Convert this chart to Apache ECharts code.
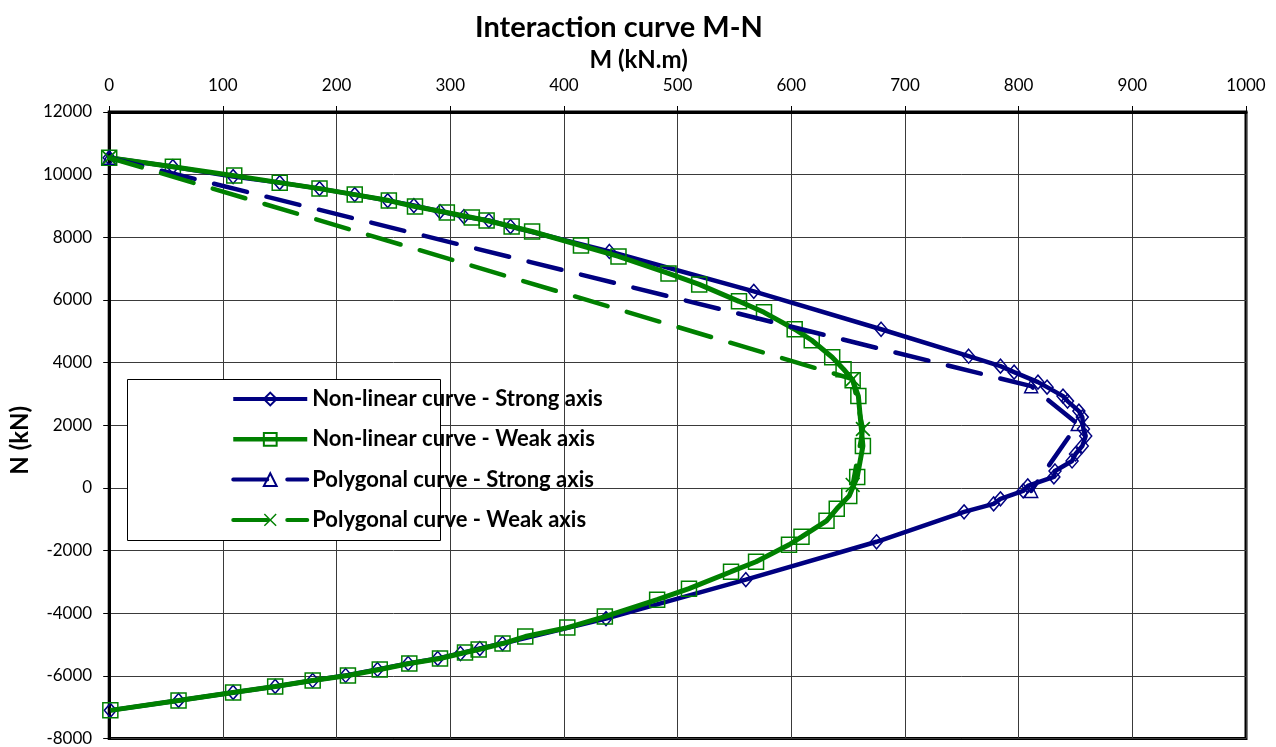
<!DOCTYPE html>
<html>
<head>
<meta charset="utf-8">
<title>Interaction curve M-N</title>
<script src="https://cdn.jsdelivr.net/npm/echarts@6/dist/echarts.min.js"></script>
<style>
  html, body { margin: 0; padding: 0; background: #fff; }
  #chart { width: 1276px; height: 747px; }
</style>
</head>
<body>
<div id="chart"></div>
<script>
// Bending moment M (kN.m) and axial force N (kN) for each curve
const strongM = [0, 56, 109, 150, 185, 216, 245, 268, 291, 312, 334, 353, 440, 567, 679, 756, 784, 796, 817, 825, 839, 843, 853, 856, 857, 859, 856, 850, 847, 832, 831, 808, 804, 784, 778, 752, 675, 560, 437, 346, 326, 309, 289, 263, 236, 208, 179, 146, 109, 61, 1];
const strongN = [10540, 10255, 9937, 9745, 9554, 9363, 9172, 9013, 8822, 8663, 8535, 8344, 7548, 6274, 5064, 4204, 3886, 3695, 3376, 3217, 2930, 2771, 2452, 2261, 1879, 1656, 1338, 1083, 860, 541, 350, 64, -96, -350, -510, -764, -1720, -2930, -4172, -4968, -5128, -5287, -5446, -5605, -5796, -5988, -6147, -6338, -6529, -6784, -7102];

const weakM = [0, 56, 110, 150, 185, 216, 246, 269, 297, 319, 332, 354, 372, 415, 448, 492, 519, 554, 576, 603, 618, 636, 646, 654, 659, 663, 658, 651, 640, 631, 609, 598, 569, 547, 510, 482, 436, 403, 366, 346, 325, 313, 291, 264, 238, 210, 179, 146, 109, 61, 1];
const weakN = [10540, 10255, 9969, 9745, 9554, 9363, 9172, 8981, 8790, 8631, 8535, 8344, 8185, 7739, 7389, 6847, 6497, 5956, 5605, 5064, 4713, 4172, 3790, 3440, 2930, 1338, 350, -255, -669, -1051, -1561, -1815, -2357, -2675, -3217, -3567, -4109, -4459, -4746, -4968, -5160, -5255, -5446, -5605, -5796, -5988, -6147, -6338, -6529, -6784, -7102];

const polyStrongM = [0, 811, 852, 811];
const polyStrongN = [10540, 3249, 2038, -96];

const polyWeakM = [0, 654, 663, 654];
const polyWeakN = [10540, 3472, 1879, 96];

const seriesNames = [
  'Non-linear curve - Strong axis',
  'Non-linear curve - Weak axis',
  'Polygonal curve - Strong axis',
  'Polygonal curve - Weak axis'
];

const mTicks = { min: 0, max: 1000, interval: 100 };
const nTicks = { min: -8000, max: 12000, interval: 2000 };

const NAVY = '#000080';
const GREEN = '#008000';
const FONT = 'Lato, "Open Sans", sans-serif';

function pairs(ms, ns) {
  return ms.map((m, i) => [m, ns[i]]);
}

// filled cross used as the "x" marker
const CROSS = 'path://M0,0.08 L0.08,0 L0.5,0.42 L0.92,0 L1,0.08 L0.58,0.5 L1,0.92 L0.92,1 L0.5,0.58 L0.08,1 L0,0.92 L0.42,0.5 Z';

const chart = echarts.init(document.getElementById('chart'));

chart.setOption({
  backgroundColor: '#fff',
  animation: false,
  title: {
    text: 'Interaction curve M-N',
    left: 470,
    top: 8,
    textStyle: { fontFamily: FONT, fontWeight: 'bold', fontSize: 29, color: '#000' }
  },
  grid: {
    left: 106, right: 30, top: 112, bottom: 7,
    show: true, borderColor: '#000', borderWidth: 3, backgroundColor: 'transparent'
  },
  xAxis: {
    type: 'value',
    position: 'top',
    min: mTicks.min, max: mTicks.max, interval: mTicks.interval,
    name: 'M (kN.m)',
    nameLocation: 'middle',
    nameGap: 39,
    nameTextStyle: { fontFamily: FONT, fontWeight: 'bold', fontSize: 24, color: '#000', padding: [0, 78, 0, 0] },
    axisLine: { show: true, onZero: false, lineStyle: { color: '#000', width: 3 } },
    axisTick: { show: true, inside: false, length: 6, lineStyle: { color: '#000', width: 1 } },
    axisLabel: { margin: 18, fontFamily: FONT, fontSize: 17, color: '#000', formatter: v => String(v) },
    splitLine: { show: true, lineStyle: { color: '#3a3a3a', width: 1 } }
  },
  yAxis: {
    type: 'value',
    min: nTicks.min, max: nTicks.max, interval: nTicks.interval,
    name: 'N (kN)',
    nameLocation: 'middle',
    nameGap: 76,
    nameRotate: 90,
    nameTextStyle: { fontFamily: FONT, fontWeight: 'bold', fontSize: 24, color: '#000', padding: [0, 30, 0, 0] },
    axisLine: { show: true, onZero: false, lineStyle: { color: '#000', width: 3 } },
    axisTick: { show: true, inside: false, length: 6, lineStyle: { color: '#000', width: 1 } },
    axisLabel: { margin: 17, fontFamily: FONT, fontSize: 17, color: '#000', formatter: v => String(v) },
    splitLine: { show: true, lineStyle: { color: '#3a3a3a', width: 1 } }
  },
  legend: {
    orient: 'vertical',
    left: 226,
    top: 383,
    itemWidth: 74,
    itemHeight: 16,
    itemGap: 18.3,
    z: 10,
    textStyle: { fontFamily: FONT, fontWeight: 'bold', fontSize: 22, color: '#000', lineHeight: 16 },
    data: [
      { name: seriesNames[0], lineStyle: { width: 4 } },
      { name: seriesNames[1], lineStyle: { width: 4.5 } },
      { name: seriesNames[2], lineStyle: { width: 4 } },
      { name: seriesNames[3], lineStyle: { width: 4 } }
    ]
  },
  graphic: [{
    type: 'rect',
    z: 8,
    shape: { x: 127.5, y: 379.5, width: 313, height: 161 },
    style: { fill: '#fff', stroke: '#000', lineWidth: 1 }
  }],
  series: [
    {
      name: seriesNames[0],
      type: 'line',
      data: pairs(strongM, strongN),
      symbol: 'diamond',
      symbolSize: [12, 14],
      itemStyle: { color: 'rgba(255,255,255,0)', borderColor: NAVY, borderWidth: 1.5 },
      lineStyle: { color: NAVY, width: 4.5 },
      z: 2
    },
    {
      name: seriesNames[1],
      type: 'line',
      data: pairs(weakM, weakN),
      symbol: 'rect',
      symbolSize: 15,
      itemStyle: { color: 'rgba(255,255,255,0)', borderColor: GREEN, borderWidth: 1.5 },
      lineStyle: { color: GREEN, width: 5 },
      z: 3
    },
    {
      name: seriesNames[2],
      type: 'line',
      data: pairs(polyStrongM, polyStrongN),
      symbol: 'triangle',
      symbolSize: 13,
      itemStyle: { color: 'rgba(255,255,255,0)', borderColor: NAVY, borderWidth: 1.5 },
      lineStyle: { color: NAVY, width: 4.5, type: [34, 20], cap: 'round' },
      z: 4
    },
    {
      name: seriesNames[3],
      type: 'line',
      data: pairs(polyWeakM, polyWeakN),
      symbol: CROSS,
      symbolSize: 15,
      itemStyle: { color: GREEN },
      lineStyle: { color: GREEN, width: 4.5, type: [34, 20], cap: 'round' },
      z: 5
    }
  ]
});
</script>
</body>
</html>
